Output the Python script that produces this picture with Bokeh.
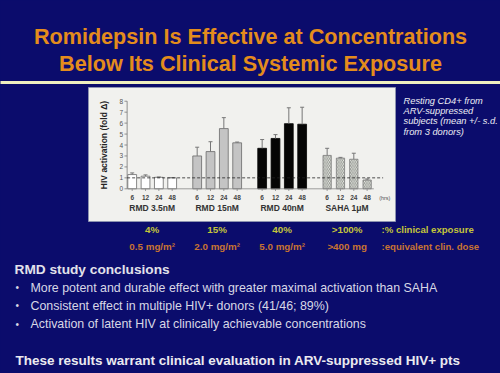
from bokeh.plotting import figure
from bokeh.models import Range1d
from bokeh.core.properties import value
from bokeh.embed import file_html
from bokeh.resources import INLINE

# ---------------- data ----------------
groups = ["RMD 3.5nM", "RMD 15nM", "RMD 40nM", "SAHA 1\u03bcM"]
hours = ["6", "12", "24", "48"]
rmd35 = [1.3, 1.15, 1.05, 1.0]
rmd35_sd = [0.15, 0.12, 0.03, 0.02]
rmd15 = [3.0, 3.4, 5.5, 4.2]
rmd15_sd = [0.8, 0.9, 1.0, 0.07]
rmd40 = [3.7, 4.6, 5.95, 5.9]
rmd40_sd = [0.8, 0.35, 1.45, 1.55]
saha = [3.05, 2.8, 2.7, 0.8]
saha_sd = [0.65, 0.07, 0.55, 0.1]
yticks = [0, 1, 2, 3, 4, 5, 6, 7, 8]
pct_exposure = ["4%", "15%", "40%", ">100%"]
clin_dose = ["0.5 mg/m\u00b2", "2.0 mg/m\u00b2", "5.0 mg/m\u00b2", ">400 mg"]
notes = ["Resting  CD4+ from", "ARV-suppressed", "subjects  (mean +/- s.d.", "from 3 donors)"]
bullets = [
    "More potent and durable effect with greater maximal activation than SAHA",
    "Consistent effect in multiple HIV+ donors (41/46; 89%)",
    "Activation of latent HIV at clinically achievable concentrations",
]

NAVY = "#0b0c6c"
W, H = 500, 373
FONT = value("Liberation Sans")

p = figure(width=W, height=H, output_backend="svg", toolbar_location=None,
           x_range=Range1d(0, W), y_range=Range1d(H, 0),
           min_border=0, min_border_left=0, min_border_right=0,
           min_border_top=0, min_border_bottom=0)
p.axis.visible = False
p.grid.visible = False
p.outline_line_color = None
p.background_fill_color = NAVY
p.border_fill_color = NAVY

# chart coordinate system (bar units / fold units)
p.extra_x_ranges = {"cx": Range1d(-9.88, 27.63)}
p.extra_y_ranges = {"cy": Range1d(-16.87, 17.2)}
CX, CY = "cx", "cy"
GAP = 4.875

# ---------------- title ----------------
p.text(x=[250, 250], y=[36, 63],
       text=["Romidepsin Is Effective at Concentrations", "Below Its Clinical Systemic Exposure"],
       text_font=FONT, text_font_style="bold", text_font_size="21.6px",
       text_color="#e48c1c", text_align="center", text_baseline="middle")
p.segment(x0=[-10], y0=[82], x1=[W + 10], y1=[82], line_color="#efefc0", line_width=3)

# ---------------- chart panel ----------------
p.quad(left=[88], right=[395], top=[87], bottom=[221],
       fill_color="#f1f1ee", line_color="#8d93b0", line_width=1)

series = [rmd35, rmd15, rmd40, saha]
sds = [rmd35_sd, rmd15_sd, rmd40_sd, saha_sd]
fills = ["#ffffff", "#c4c4c4", "#050505", "#f4f4f0"]
lines = ["#6a6a6a", "#6a6a6a", "#050505", "#7a7a7a"]

all_x = []
for g, (vals, sd) in enumerate(zip(series, sds)):
    xs = [g * GAP + i for i in range(len(vals))]
    all_x += xs
    kw = dict(x_range_name=CX, y_range_name=CY)
    if g == 3:
        p.vbar(x=xs, top=vals, bottom=0, width=0.62, fill_color=fills[g],
               line_color=lines[g], line_width=0.8, hatch_pattern="\\",
               hatch_color="#8a8f88", hatch_scale=3.5, hatch_weight=0.9, **kw)
    else:
        p.vbar(x=xs, top=vals, bottom=0, width=0.66, fill_color=fills[g],
               line_color=lines[g], line_width=0.8, **kw)
    tops = [v + s for v, s in zip(vals, sd)]
    p.segment(x0=xs, y0=vals, x1=xs, y1=tops, line_color="#777777", line_width=1, **kw)
    p.segment(x0=[x - 0.15 for x in xs], y0=tops, x1=[x + 0.15 for x in xs], y1=tops,
              line_color="#777777", line_width=1, **kw)
    p.text(x=xs, y=[-0.8] * len(xs), text=hours, text_font=FONT, text_font_style="bold",
           text_font_size="6.5px", text_color="#444444", text_align="center",
           text_baseline="middle", **kw)

grp_centers = [g * GAP + 1.5 for g in range(len(groups))]
p.text(x=grp_centers, y=[-1.72] * 4, text=groups, text_font=FONT, text_font_style="bold",
       text_font_size="8.5px", text_color="#333333", text_align="center",
       text_baseline="middle", x_range_name=CX, y_range_name=CY)
p.text(x=[max(all_x) + 0.9], y=[-0.8], text=["(hrs)"], text_font=FONT,
       text_font_size="5.5px", text_color="#555555", text_align="left",
       text_baseline="middle", x_range_name=CX, y_range_name=CY)

# axes
ax0 = -0.38
p.segment(x0=[ax0], y0=[0], x1=[ax0], y1=[max(yticks)], line_color="#777777",
          line_width=0.8, x_range_name=CX, y_range_name=CY)
p.segment(x0=[ax0] * len(yticks), y0=yticks, x1=[ax0 - 0.2] * len(yticks), y1=yticks,
          line_color="#777777", line_width=0.8, x_range_name=CX, y_range_name=CY)
p.text(x=[ax0 - 0.3] * len(yticks), y=yticks, text=[str(t) for t in yticks], text_font=FONT,
       text_font_size="6.5px", text_color="#555555", text_align="right",
       text_baseline="middle", x_range_name=CX, y_range_name=CY)
p.segment(x0=[ax0], y0=[0], x1=[max(all_x) + 0.5], y1=[0], line_color="#888888",
          line_width=0.8, x_range_name=CX, y_range_name=CY)
p.segment(x0=all_x, y0=[0] * len(all_x), x1=all_x, y1=[-0.2] * len(all_x),
          line_color="#888888", line_width=0.8, x_range_name=CX, y_range_name=CY)
p.segment(x0=[ax0], y0=[1], x1=[max(all_x) + 1.2], y1=[1], line_color="#222222",
          line_width=0.8, line_dash="3 2", x_range_name=CX, y_range_name=CY)
p.text(x=[-2.08], y=[4], text=["HIV activation (fold \u0394)"], angle=1.5708,
       text_font=FONT, text_font_style="bold", text_font_size="8.5px",
       text_color="#222222", text_align="center", text_baseline="middle",
       x_range_name=CX, y_range_name=CY)

# ---------------- notes ----------------
p.text(x=[403] * 4, y=[100, 110.3, 120.6, 131], text=notes, text_font=FONT,
       text_font_style="italic", text_font_size="9.3px", text_color="#ececf4",
       text_align="left", text_baseline="middle")

# ---------------- exposure rows ----------------
p.text(x=grp_centers, y=[-3.72] * 4, text=pct_exposure, text_font=FONT,
       text_font_style="bold", text_font_size="9.8px", text_color="#c4c43a",
       text_align="center", text_baseline="middle", x_range_name=CX, y_range_name=CY)
p.text(x=[381], y=[229], text=[":% clinical exposure"], text_font=FONT,
       text_font_style="bold", text_font_size="9.6px", text_color="#c4c43a",
       text_align="left", text_baseline="middle")
p.text(x=grp_centers, y=[-5.28] * 4, text=clin_dose, text_font=FONT,
       text_font_style="bold", text_font_size="9.8px", text_color="#c87432",
       text_align="center", text_baseline="middle", x_range_name=CX, y_range_name=CY)
p.text(x=[381], y=[246], text=[":equivalent clin. dose"], text_font=FONT,
       text_font_style="bold", text_font_size="9.6px", text_color="#c87432",
       text_align="left", text_baseline="middle")

# ---------------- conclusions ----------------
p.text(x=[14], y=[269], text=["RMD study  conclusions"], text_font=FONT,
       text_font_style="bold", text_font_size="13.7px", text_color="#e2e2ea",
       text_align="left", text_baseline="middle")
by = [287, 305, 323.5]
p.text(x=[15] * 3, y=by, text=["\u2022"] * 3, text_font=FONT, text_font_size="10px",
       text_color="#d8d8e6", text_align="left", text_baseline="middle")
p.text(x=[30] * 3, y=by, text=bullets, text_font=FONT, text_font_size="12.4px",
       text_color="#d8d8e6", text_align="left", text_baseline="middle")
p.text(x=[15], y=[360], text=["These results warrant clinical evaluation in ARV-suppressed  HIV+ pts"],
       text_font=FONT, text_font_style="bold", text_font_size="13.5px",
       text_color="#eaeaf0", text_align="left", text_baseline="middle")

html = file_html(p, INLINE)
html = html.replace("<head>", "<head><style>html,body{background:%s;}</style>" % NAVY, 1)
open("out.html", "w").write(html)
